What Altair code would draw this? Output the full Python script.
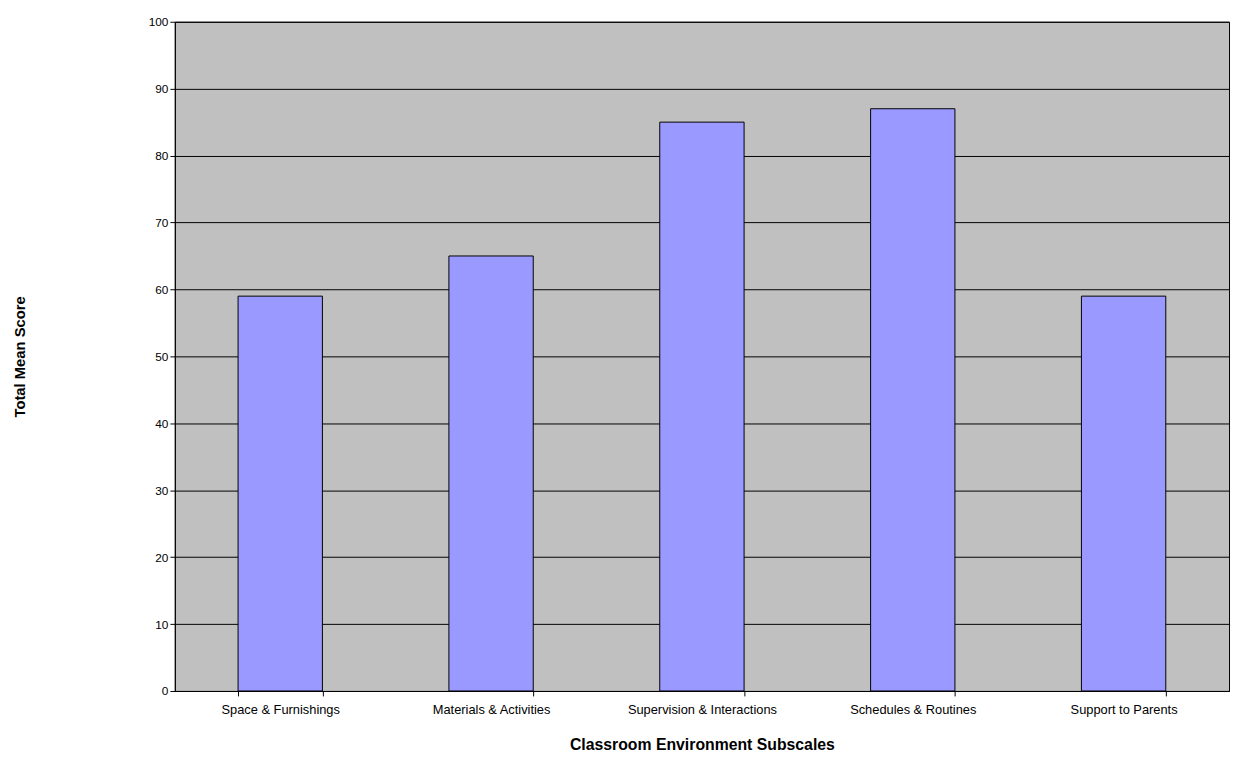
import altair as alt
import pandas as pd

subscales = ["Space & Furnishings", "Materials & Activities", "Supervision & Interactions",
             "Schedules & Routines", "Support to Parents"]
scores = [59, 65, 85, 87, 59]

df = pd.DataFrame({"subscale": subscales, "score": scores})

chart = alt.Chart(df).mark_bar(color="#9999FF", stroke="black", strokeWidth=1).encode(
    x=alt.X("subscale:N", sort=subscales, title="Classroom Environment Subscales",
            scale=alt.Scale(paddingInner=0.6, paddingOuter=0.3),
            axis=alt.Axis(labelAngle=0, labelFontSize=13, labelColor="black",
                          titleFontSize=16, titleFontWeight="bold", titleColor="black",
                          titlePadding=20, tickBand="extent", domainColor="black",
                          tickColor="black", labelPadding=8, labelFont="Liberation Sans",
                          titleFont="Liberation Sans")),
    y=alt.Y("score:Q", title="Total Mean Score",
            scale=alt.Scale(domain=[0, 100]),
            axis=alt.Axis(values=list(range(0, 101, 10)), gridColor="black", gridOpacity=1,
                          labelFontSize=12, labelColor="black", titleFontSize=15,
                          titleFontWeight="bold", titleColor="black", titlePadding=122,
                          domainColor="black", tickColor="black", labelFont="Liberation Sans",
                          titleFont="Liberation Sans")),
).properties(
    width=1068, height=678,
    autosize=alt.AutoSizeParams(type="none"),
    padding={"left": 169, "top": 9, "right": 2, "bottom": 66},
).configure_view(fill="#C0C0C0", stroke="black", strokeWidth=1).configure_axisX(grid=False)

chart.save("out.html", embed_options={"renderer": "svg", "actions": False})
